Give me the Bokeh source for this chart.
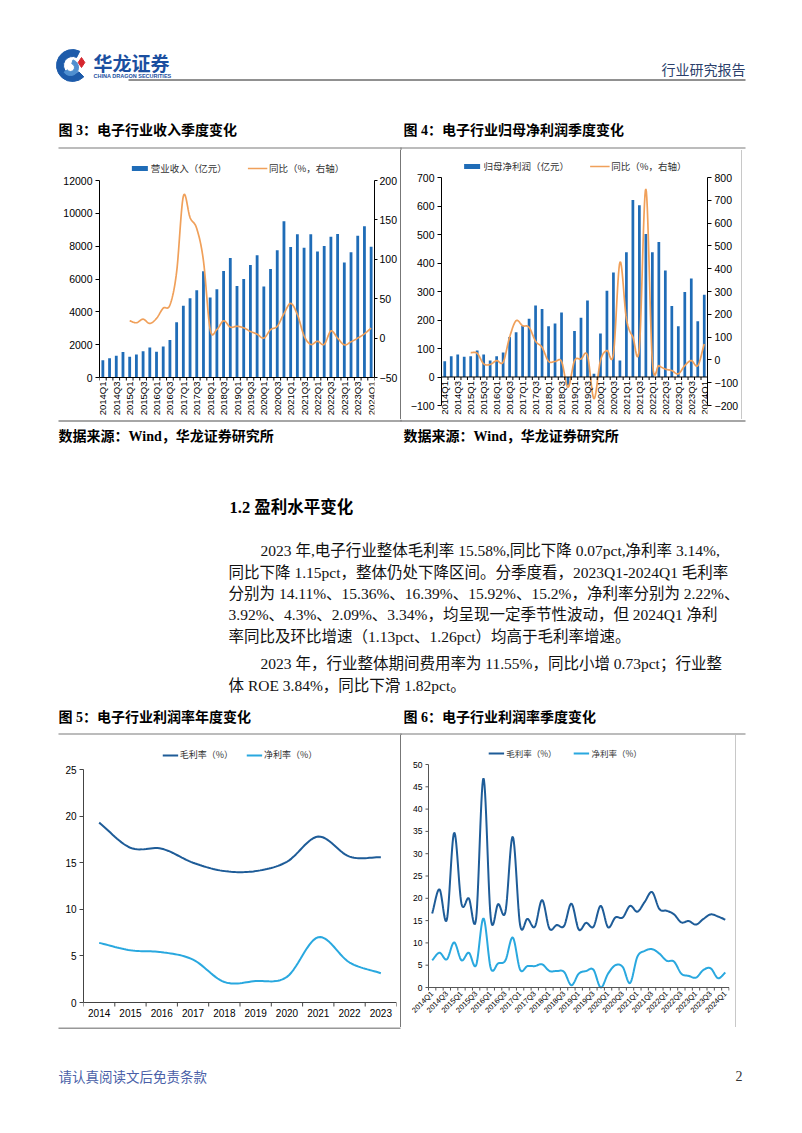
import numpy as np
from bokeh.plotting import figure
from bokeh.models import Range1d, LinearAxis, FixedTicker, Legend, LegendItem, Spacer
from bokeh.layouts import column, row
from bokeh.core.properties import value
from bokeh.embed import file_html
from bokeh.resources import INLINE

# ---------------- data ----------------
quarters = ["2014Q1", "2014Q2", "2014Q3", "2014Q4", "2015Q1", "2015Q2", "2015Q3", "2015Q4",
            "2016Q1", "2016Q2", "2016Q3", "2016Q4", "2017Q1", "2017Q2", "2017Q3", "2017Q4",
            "2018Q1", "2018Q2", "2018Q3", "2018Q4", "2019Q1", "2019Q2", "2019Q3", "2019Q4",
            "2020Q1", "2020Q2", "2020Q3", "2020Q4", "2021Q1", "2021Q2", "2021Q3", "2021Q4",
            "2022Q1", "2022Q2", "2022Q3", "2022Q4", "2023Q1", "2023Q2", "2023Q3", "2023Q4",
            "2024Q1"]
years = ["2014", "2015", "2016", "2017", "2018", "2019", "2020", "2021", "2022", "2023"]

revenue = [1050, 1180, 1320, 1550, 1260, 1400, 1600, 1830, 1570, 1890, 2280, 3360,
           4370, 4820, 5310, 6470, 4880, 5370, 6490, 7280, 5570, 6000, 6850, 7440,
           5550, 6610, 7750, 9520, 7950, 8720, 7910, 8720, 7670, 8010, 8580, 8740,
           7000, 7630, 8640, 9210, 7970]
revenue_yoy = [None, None, None, None, 22, 19.5, 24, 18.6, 25, 38, 42, 84,
               180, 153, 139, 98, 11, 11, 22, 14, 15, 13, 8.5, 5,
               0, 10.6, 15, 31, 44, 30, 3, -8, -4, -8, 9, 0,
               -8.5, -4.7, 0, 5.5, 12.7]

profit = [55, 73, 79, 71, 73, 93, 79, 58, 73, 86, 140, 157,
          180, 204, 251, 239, 178, 188, 226, -30, 161, 208, 268, 11,
          153, 303, 367, 58, 438, 621, 603, 502, 438, 474, 374, 249,
          178, 298, 346, 196, 289]
profit_yoy = [None, None, None, None, 32, 29, -17, -20, -3, -10, 100, 172,
              150, 143, 82, 55, -6, -7, -7, -120, -4, 4, 20, -170,
              -3, 41, 26, 428, 180, 100, 55, 750, -6, -25, -40, -47,
              -61, -25, -3, -25, 70]

gross_annual = [19.3, 16.6, 16.5, 15.0, 14.1, 14.1, 15.1, 17.8, 15.65, 15.58]
net_annual = [6.4, 5.6, 5.4, 4.6, 2.2, 2.3, 2.75, 7.0, 4.29, 3.14]

gross_quarterly = [16.6, 22.0, 15.2, 34.7, 18.8, 20.0, 15.5, 46.9, 15.5, 18.7, 17.0, 33.8,
                   14.0, 15.4, 13.6, 19.6, 13.2, 14.0, 13.8, 18.8, 13.0, 14.5, 13.6, 18.3,
                   13.5, 15.7, 15.7, 18.3, 17.0, 19.2, 21.4, 17.6, 17.2, 16.4, 14.6, 14.9,
                   14.11, 15.36, 16.39, 15.92, 15.2]
net_quarterly = [6.1, 7.8, 6.3, 10.1, 6.1, 7.8, 5.0, 15.5, 4.3, 5.4, 6.1, 11.2,
                 4.0, 4.8, 4.8, 5.2, 3.7, 3.7, 3.5, 0.5, 3.1, 3.7, 4.0, 0.0,
                 3.1, 5.0, 4.6, 1.0, 6.9, 8.2, 8.6, 7.6, 6.0, 5.8, 3.1, 2.6,
                 2.22, 3.92, 4.3, 2.09, 3.34]

rev_ticks = [0, 2000, 4000, 6000, 8000, 10000, 12000]
rev_yoy_ticks = [-50, 0, 50, 100, 150, 200]
profit_ticks = [-100, 0, 100, 200, 300, 400, 500, 600, 700]
profit_yoy_ticks = [-200, -100, 0, 100, 200, 300, 400, 500, 600, 700, 800]
annual_ticks = [0, 5, 10, 15, 20, 25]
quarterly_ticks = [0, 5, 10, 15, 20, 25, 30, 35, 40, 45, 50]

paragraph_lines = [
    "2023 年,电子行业整体毛利率 15.58%,同比下降 0.07pct,净利率 3.14%,",
    "同比下降 1.15pct，整体仍处下降区间。分季度看，2023Q1-2024Q1 毛利率",
    "分别为 14.11%、15.36%、16.39%、15.92%、15.2%，净利率分别为 2.22%、",
    "3.92%、4.3%、2.09%、3.34%，均呈现一定季节性波动，但 2024Q1 净利",
    "率同比及环比增速（1.13pct、1.26pct）均高于毛利率增速。",
    "2023 年，行业整体期间费用率为 11.55%，同比小增 0.73pct；行业整",
    "体 ROE 3.84%，同比下滑 1.82pct。",
]

# ---------------- styles ----------------
CJK = "Noto Sans CJK SC"
MIX = "Liberation Serif, Noto Sans CJK SC"
SANS = "Liberation Sans"
BAR = "#1F6CB7"
ORANGE = "#F0A05A"
DARK = "#1E5C98"
LIGHT = "#29A8DF"
W = 802


def smooth(xs, ys, n=14):
    xs = np.asarray(xs, float)
    ys = np.asarray(ys, float)
    px = np.concatenate([[2 * xs[0] - xs[1]], xs, [2 * xs[-1] - xs[-2]]])
    py = np.concatenate([[2 * ys[0] - ys[1]], ys, [2 * ys[-1] - ys[-2]]])
    t = np.linspace(0, 1, n, endpoint=False)
    ox, oy = [], []
    for i in range(1, len(px) - 2):
        for arr, out in ((px, ox), (py, oy)):
            p0, p1, p2, p3 = arr[i - 1], arr[i], arr[i + 1], arr[i + 2]
            out.extend(0.5 * ((2 * p1) + (-p0 + p2) * t + (2 * p0 - 5 * p1 + 4 * p2 - p3) * t ** 2
                              + (-p0 + 3 * p1 - 3 * p2 + p3) * t ** 3))
    ox.append(xs[-1])
    oy.append(ys[-1])
    return ox, oy


def padded(lo, hi, span_px, extra_lo_px, extra_hi_px):
    upp = (hi - lo) / span_px
    return Range1d(lo - extra_lo_px * upp, hi + extra_hi_px * upp), upp


def page_fig(y0, y1):
    p = figure(width=W, height=y1 - y0, x_range=Range1d(0, W), y_range=Range1d(y1, y0),
               x_axis_location=None, y_axis_location=None, toolbar_location=None,
               output_backend="svg", min_border=0)
    p.grid.visible = False
    p.outline_line_color = None
    return p


def txt(p, x, y, s, size, font=CJK, color="#000", bold=False, align="left"):
    p.text(x=[x], y=[y], text=[s], text_font=value(font), text_font_size=f"{size}px",
           text_color=color, text_font_style="bold" if bold else "normal",
           text_align=align, text_baseline="middle")


def hline(p, x0, x1, y, color, width):
    p.segment(x0=[x0], y0=[y], x1=[x1], y1=[y], line_color=color, line_width=width)


def chart_fig(w, h, xr, yr, ml, mr, mt, mb, y_axis=True):
    p = figure(width=w, height=h, x_range=xr, y_range=yr, toolbar_location=None,
               output_backend="svg", min_border_left=ml, min_border_right=mr,
               min_border_top=mt, min_border_bottom=mb, x_axis_location=None,
               y_axis_location="left" if y_axis else None)
    p.grid.visible = False
    p.outline_line_color = None
    return p


def style_axis(ax, size, color="#000", tick_out=4):
    ax.axis_line_color = color
    ax.major_tick_line_color = color
    ax.minor_tick_line_color = color
    ax.major_tick_out = tick_out
    ax.major_tick_in = 0
    ax.minor_tick_out = 0
    ax.minor_tick_in = 0
    ax.major_label_text_font = SANS
    ax.major_label_text_font_size = f"{size}px"
    ax.major_label_text_color = "#000"
    ax.major_label_standoff = 3


def manual_xaxis(p, upp, x_lo, x_hi, label_x, labels, tick_x, size, color, angle=0.0,
                 align="center", baseline="top", y_off=4, tick_px=3):
    p.segment(x0=[x_lo], y0=[0], x1=[x_hi], y1=[0], line_color=color, line_width=1)
    p.segment(x0=tick_x, y0=[0] * len(tick_x), x1=tick_x, y1=[-tick_px * upp] * len(tick_x),
              line_color=color, line_width=1)
    p.text(x=label_x, y=[0] * len(label_x), text=labels, angle=angle, text_align=align,
           text_baseline=baseline, y_offset=y_off, text_font=value(SANS),
           text_font_size=f"{size}px", text_color="#000")


def manual_yaxis(p, uppx, x0, ticks, size, color, tick_px=3):
    p.segment(x0=[x0], y0=[ticks[0]], x1=[x0], y1=[ticks[-1]], line_color=color, line_width=1)
    p.segment(x0=[x0] * len(ticks), y0=ticks, x1=[x0 - tick_px * uppx] * len(ticks), y1=ticks,
              line_color=color, line_width=1)
    p.text(x=[x0] * len(ticks), y=ticks, text=[str(t) for t in ticks], text_align="right",
           text_baseline="middle", x_offset=-(tick_px + 3), text_font=value(SANS),
           text_font_size=f"{size}px", text_color="#000")


def add_legend(p, items, size, glyph_w, glyph_h, spacing, margin):
    lg = Legend(items=items, orientation="horizontal", location="top_center")
    lg.label_text_font = CJK
    lg.label_text_font_size = f"{size}px"
    lg.label_text_color = "#333"
    lg.glyph_width = glyph_w
    lg.glyph_height = glyph_h
    lg.label_height = 12
    lg.label_standoff = 2
    lg.spacing = spacing
    lg.padding = 0
    lg.margin = margin
    lg.border_line_color = None
    lg.background_fill_alpha = 0
    p.add_layout(lg)


xq = list(range(len(quarters)))
boundaries = [i - 0.5 for i in range(len(quarters) + 1)]
label_idx = xq[::2]
label_q = [quarters[i] for i in label_idx]

# ---------------- header (page y 0-150) ----------------
pa = page_fig(0, 150)
pa.annular_wedge(x=[72], y=[65], inner_radius=9, outer_radius=16, start_angle=0.35 * np.pi,
                 end_angle=1.75 * np.pi, color="#1D5BAA")
pa.annular_wedge(x=[70], y=[67], inner_radius=4, outer_radius=8, start_angle=1.2 * np.pi,
                 end_angle=2.4 * np.pi, color="#4F8FD0")
pa.scatter(x=[81], y=[62], marker="diamond", size=10, color="#D6262E")
txt(pa, 93, 62, "华龙证券", 19, CJK, "#1B4FA0", bold=True)
txt(pa, 93, 75.5, "CHINA DRAGON SECURITIES", 5.5, SANS, "#1B4FA0", bold=True)
hline(pa, 128, 745, 79.5, "#222", 1)
txt(pa, 745, 68, "行业研究报告", 14, CJK, "#2B3F6B", align="right")
txt(pa, 58, 130, "图 3：电子行业收入季度变化", 14, MIX, bold=True)
txt(pa, 403, 130, "图 4：电子行业归母净利润季度变化", 14, MIX, bold=True)
hline(pa, 58, 745, 147.5, "#A6A6A6", 1.5)
pa.segment(x0=[400.5], y0=[147], x1=[400.5], y1=[150], line_color="#777", line_width=1)

# ---------------- chart 3 (page y 150-419, x 0-400), frame 158-419 ----------------
yr3, upp3 = padded(rev_ticks[0], rev_ticks[-1], 197, 42, 22)
yr3r, _ = padded(rev_yoy_ticks[0], rev_yoy_ticks[-1], 197, 42, 22)
p3 = chart_fig(400, 269, Range1d(-0.5, 40.5), yr3, 99, 25, 8, 0)
p3.extra_y_ranges = {"yoy": yr3r}
r_bar3 = p3.vbar(x=xq, top=revenue, width=0.42, fill_color=BAR, line_color=None)
yi = [i for i, v in enumerate(revenue_yoy) if v is not None]
sx, sy = smooth(yi, [revenue_yoy[i] for i in yi])
r_line3 = p3.line(sx, sy, y_range_name="yoy", line_color=ORANGE, line_width=1.7)
la3 = p3.left[0]
la3.ticker = FixedTicker(ticks=rev_ticks)
la3.bounds = (rev_ticks[0], rev_ticks[-1])
style_axis(la3, 10.5)
ra3 = LinearAxis(y_range_name="yoy", ticker=FixedTicker(ticks=rev_yoy_ticks),
                 bounds=(rev_yoy_ticks[0], rev_yoy_ticks[-1]))
style_axis(ra3, 10.5, tick_out=3)
ra3.major_label_standoff = 2
p3.add_layout(ra3, "right")
manual_xaxis(p3, upp3, -0.5, 40.5, label_idx, label_q, boundaries, 9.5, "#000",
             angle=np.pi / 2, align="right", baseline="middle", y_off=4)
add_legend(p3, [LegendItem(label="营业收入（亿元）", renderers=[r_bar3]),
                LegendItem(label="同比（%，右轴）", renderers=[r_line3])],
           9.5, 20, 6, 20, 3)

# ---------------- chart 4 (page y 150-419, x 401-741), frame 158-419 ----------------
yr4, upp4 = padded(profit_ticks[0], profit_ticks[-1], 228, 14, 19)
yr4r, _ = padded(profit_yoy_ticks[0], profit_yoy_ticks[-1], 228, 14, 19)
p4 = chart_fig(340, 269, Range1d(-0.5, 40.5), yr4, 40, 33, 8, 0)
p4.extra_y_ranges = {"yoy": yr4r}
r_bar4 = p4.vbar(x=xq, top=profit, width=0.42, fill_color=BAR, line_color=None)
yi4 = [i for i, v in enumerate(profit_yoy) if v is not None]
sx4, sy4 = smooth(yi4, [profit_yoy[i] for i in yi4])
r_line4 = p4.line(sx4, sy4, y_range_name="yoy", line_color=ORANGE, line_width=1.7)
la4 = p4.left[0]
la4.ticker = FixedTicker(ticks=profit_ticks)
la4.bounds = (profit_ticks[0], profit_ticks[-1])
style_axis(la4, 10.5)
ra4 = LinearAxis(y_range_name="yoy", ticker=FixedTicker(ticks=profit_yoy_ticks),
                 bounds=(profit_yoy_ticks[0], profit_yoy_ticks[-1]))
style_axis(ra4, 10.5)
p4.add_layout(ra4, "right")
manual_xaxis(p4, upp4, -0.5, 40.5, label_idx, label_q, boundaries, 9.5, "#000",
             angle=np.pi / 2, align="right", baseline="middle", y_off=4)
add_legend(p4, [LegendItem(label="归母净利润（亿元）", renderers=[r_bar4]),
                LegendItem(label="同比（%，右轴）", renderers=[r_line4])],
           9.5, 20, 6, 20, 1)

# ---------------- middle text (page y 419-735) ----------------
pc = page_fig(419, 735)
hline(pc, 58, 745, 420.5, "#A6A6A6", 2)
txt(pc, 58, 436, "数据来源：Wind，华龙证券研究所", 14, MIX, bold=True)
txt(pc, 403, 436, "数据来源：Wind，华龙证券研究所", 14, MIX, bold=True)
txt(pc, 229, 507, "1.2  盈利水平变化", 16.5, MIX, bold=True)
para_y = [550, 571.5, 593, 614, 635.5, 663, 684.5]
para_x = [260, 228, 228, 228, 228, 260, 228]
for x, y, s in zip(para_x, para_y, paragraph_lines):
    txt(pc, x, y, s, 15.5, MIX, "#111")
txt(pc, 58, 717, "图 5：电子行业利润率年度变化", 14, MIX, bold=True)
txt(pc, 403, 717, "图 6：电子行业利润率季度变化", 14, MIX, bold=True)
hline(pc, 58, 745, 733.5, "#A6A6A6", 1.5)
pc.segment(x0=[400.5, 400.5], y0=[419, 733], x1=[400.5, 400.5], y1=[421, 735],
           line_color="#777", line_width=1)

# ---------------- chart 5 (page y 735-1027, x 0-400), frame 745-1027 ----------------
xy = list(range(len(years)))
yr5, upp5 = padded(annual_ticks[0], annual_ticks[-1], 233, 25, 24)
p5 = chart_fig(400, 292, Range1d(-0.5, len(years) - 0.5), yr5, 83, 4, 10, 0)
gx, gy = smooth(xy, gross_annual)
nx, ny = smooth(xy, net_annual)
r_g5 = p5.line(gx, gy, line_color=DARK, line_width=2)
r_n5 = p5.line(nx, ny, line_color=LIGHT, line_width=2)
la5 = p5.left[0]
la5.ticker = FixedTicker(ticks=annual_ticks)
la5.bounds = (annual_ticks[0], annual_ticks[-1])
style_axis(la5, 10, color="#444")
manual_xaxis(p5, upp5, -0.5, len(years) - 0.5, xy, years,
             [i - 0.5 for i in range(len(years) + 1)], 10, "#444", y_off=6, tick_px=4)
add_legend(p5, [LegendItem(label="毛利率（%）", renderers=[r_g5]),
                LegendItem(label="净利率（%）", renderers=[r_n5])],
           9, 16, 6, 13, 3)

# ---------------- chart 6 (page y 735-1027, x 401-735), frame 745-1027 ----------------
cat_px6 = 300.5 / len(quarters)
xr6 = Range1d(-0.5 - 27 / cat_px6, len(quarters) - 0.5 + 0.5 / cat_px6)
yr6, upp6 = padded(quarterly_ticks[0], quarterly_ticks[-1], 223, 40, 19)
p6 = chart_fig(334, 292, xr6, yr6, 0, 6, 10, 0, y_axis=False)
gx6, gy6 = smooth(xq, gross_quarterly)
nx6, ny6 = smooth(xq, net_quarterly)
r_g6 = p6.line(gx6, gy6, line_color=DARK, line_width=2)
r_n6 = p6.line(nx6, ny6, line_color=LIGHT, line_width=2)
manual_yaxis(p6, 1 / cat_px6, -0.5, quarterly_ticks, 8.5, "#555", tick_px=3)
manual_xaxis(p6, upp6, -0.5, len(quarters) - 0.5, label_idx, label_q, boundaries, 7.5, "#555",
             angle=np.pi / 4, align="right", baseline="middle", y_off=5)
add_legend(p6, [LegendItem(label="毛利率（%）", renderers=[r_g6]),
                LegendItem(label="净利率（%）", renderers=[r_n6])],
           8.5, 16, 6, 17, 2)

# ---------------- footer (page y 1027-1133) ----------------
pe = page_fig(1027, 1133)
hline(pe, 58, 400, 1027.5, "#333", 1)
txt(pe, 58, 1075, "请认真阅读文后免责条款", 13.5, CJK, "#4A5FA8")
txt(pe, 742, 1075, "2", 14, "Liberation Serif", "#333", align="right")


def vbar_spacer(h, color):
    return Spacer(width=1, height=h, styles={"background-color": color})


row_b = row(p3, vbar_spacer(269, "#777"), p4, vbar_spacer(269, "#C8C8C8"),
            Spacer(width=60, height=269))
row_d = row(p5, vbar_spacer(292, "#777"), p6, vbar_spacer(292, "#C8C8C8"),
            Spacer(width=66, height=292))
root = column(pa, row_b, pc, row_d, pe)

open("out.html", "w").write(file_html(root, INLINE))
